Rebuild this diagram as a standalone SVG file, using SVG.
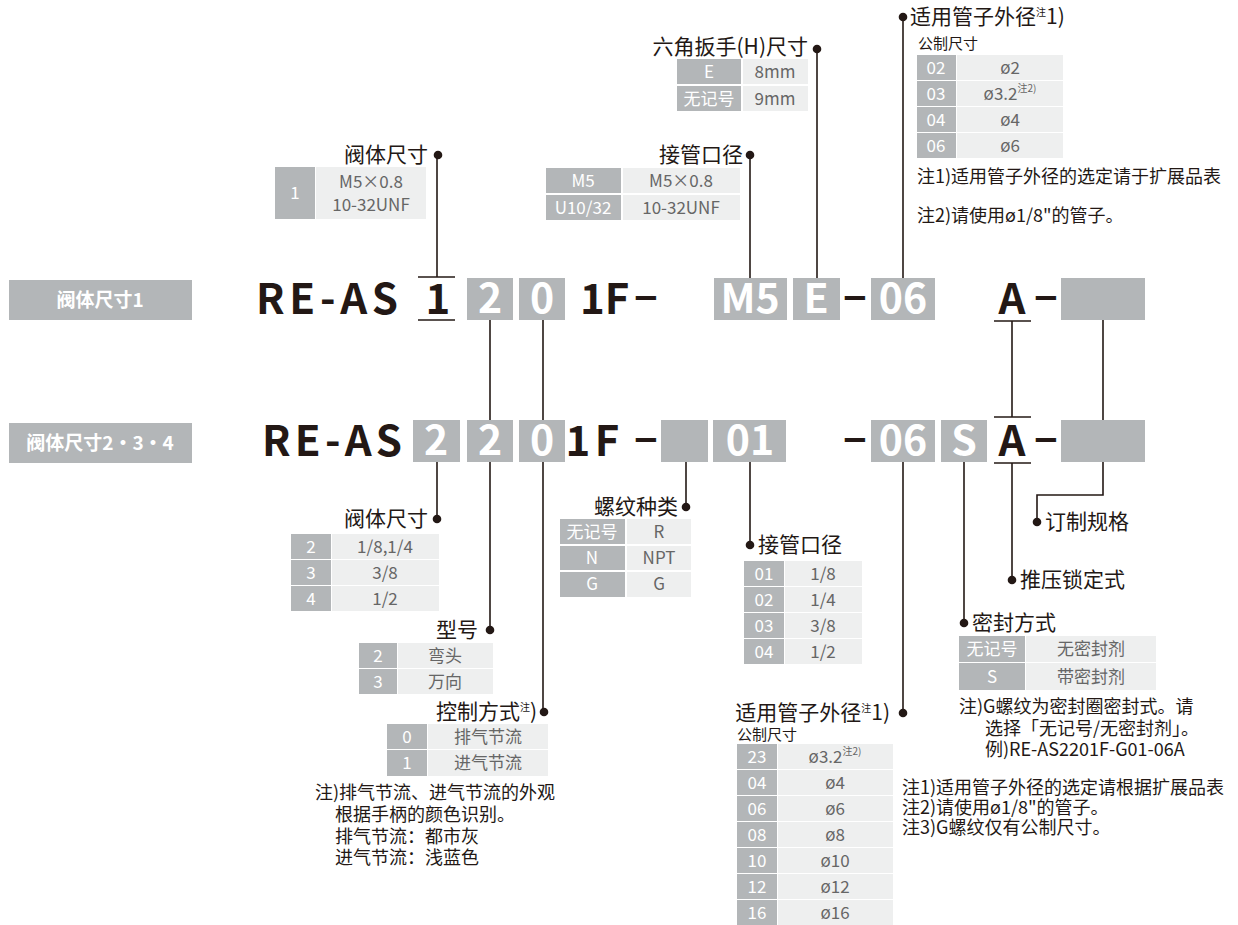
<svg xmlns="http://www.w3.org/2000/svg" width="1238" height="925" viewBox="0 0 1238 925">
<style>
text{font-family:'Noto Sans CJK SC','Noto Sans',sans-serif}
.g{fill:#b3b6b8}
.l{fill:#eeefef}
.tw{fill:#fff;font-size:17px;text-anchor:middle}
.tg{fill:#666;font-size:17px;text-anchor:middle}
.lbl{fill:#231815;font-size:21px}
.note{fill:#231815;font-size:18px}
.sub{fill:#231815;font-size:15px}
.big{fill:#231815;font-size:42px;font-weight:bold}
.bw{fill:#fff;font-size:41px;font-weight:bold;text-anchor:middle}
.dash{fill:#231815;font-size:41px;font-weight:bold;font-family:'Liberation Sans',sans-serif;text-anchor:middle}
.rl{fill:#fff;font-size:19px;font-weight:bold;text-anchor:middle}
.ln{stroke:#231815;stroke-width:1.6;fill:none}
.dot{fill:#231815}
.sup{font-size:10px}
</style>
<rect width="1238" height="925" fill="#fff"/>

<g id="connectors">
<line class="ln" x1="437" y1="155" x2="437" y2="277"/>
<line class="ln" x1="418" y1="277" x2="455" y2="277"/>
<line class="ln" x1="418" y1="320" x2="455" y2="320"/>
<line class="ln" x1="750" y1="155" x2="750" y2="278"/>
<line class="ln" x1="817" y1="49" x2="817" y2="278"/>
<line class="ln" x1="903" y1="17" x2="903" y2="278"/>
<line class="ln" x1="490" y1="320" x2="490" y2="420"/>
<line class="ln" x1="543" y1="320" x2="543" y2="420"/>
<line class="ln" x1="994" y1="321" x2="1031" y2="321"/>
<line class="ln" x1="1012" y1="321" x2="1012" y2="417"/>
<line class="ln" x1="994" y1="417" x2="1031" y2="417"/>
<line class="ln" x1="1103" y1="320" x2="1103" y2="420"/>
<line class="ln" x1="437" y1="462" x2="437" y2="519"/>
<line class="ln" x1="490" y1="462" x2="490" y2="630"/>
<line class="ln" x1="543" y1="462" x2="543" y2="712"/>
<line class="ln" x1="686" y1="462" x2="686" y2="507"/>
<line class="ln" x1="750" y1="462" x2="750" y2="545"/>
<line class="ln" x1="903" y1="462" x2="903" y2="713"/>
<line class="ln" x1="964" y1="462" x2="964" y2="623"/>
<line class="ln" x1="994" y1="463" x2="1031" y2="463"/>
<line class="ln" x1="1012" y1="463" x2="1012" y2="580"/>
<polyline class="ln" points="1103,462 1103,495 1037,495 1037,522"/>
<circle class="dot" cx="438" cy="155" r="4.3"/>
<circle class="dot" cx="750" cy="155" r="4.3"/>
<circle class="dot" cx="817" cy="49" r="4.3"/>
<circle class="dot" cx="903" cy="17" r="4.3"/>
<circle class="dot" cx="437" cy="519" r="4.3"/>
<circle class="dot" cx="490" cy="630" r="4.3"/>
<circle class="dot" cx="544" cy="712" r="4.3"/>
<circle class="dot" cx="686" cy="507" r="4.3"/>
<circle class="dot" cx="750" cy="545" r="4.3"/>
<circle class="dot" cx="903" cy="713" r="4.3"/>
<circle class="dot" cx="964" cy="623" r="4.3"/>
<circle class="dot" cx="1012" cy="580" r="4.3"/>
<circle class="dot" cx="1037" cy="522" r="4.3"/>
</g>

<g id="row-label-1">
<rect class="g" x="9" y="280" width="183" height="40"/>
<text class="rl" x="100" y="307">阀体尺寸1</text>
</g>
<g id="row-label-2">
<rect class="g" x="9" y="423" width="183" height="40"/>
<text class="rl" x="100" y="450">阀体尺寸2·3·4</text>
</g>

<g id="row1">
<text class="big" x="256" y="314" textLength="142" lengthAdjust="spacing">RE-AS</text>
<text class="big" x="438" y="314" text-anchor="middle">1</text>
<rect class="g" x="467" y="278" width="46" height="42"/><text class="bw" x="490" y="313">2</text>
<rect class="g" x="519" y="278" width="46" height="42"/><text class="bw" x="542" y="313">0</text>
<text class="big" x="580" y="314">1F</text>
<text class="dash" x="646" y="309">–</text>
<rect class="g" x="714" y="278" width="73" height="42"/><text class="bw" x="750" y="313">M5</text>
<rect class="g" x="793" y="278" width="47" height="42"/><text class="bw" x="816" y="313">E</text>
<text class="dash" x="855" y="309">–</text>
<rect class="g" x="871" y="278" width="64" height="42"/><text class="bw" x="903" y="313">06</text>
<text class="big" x="1012" y="314" text-anchor="middle">A</text>
<text class="dash" x="1046" y="309">–</text>
<rect class="g" x="1061" y="278" width="84" height="42"/>
</g>

<g id="row2">
<text class="big" x="262" y="456" textLength="140" lengthAdjust="spacing">RE-AS</text>
<rect class="g" x="413" y="420" width="47" height="42"/><text class="bw" x="436" y="455">2</text>
<rect class="g" x="467" y="420" width="46" height="42"/><text class="bw" x="490" y="455">2</text>
<rect class="g" x="519" y="420" width="46" height="42"/><text class="bw" x="542" y="455">0</text>
<text class="big" x="578" y="456" text-anchor="middle">1</text>
<text class="big" x="607" y="456" text-anchor="middle">F</text>
<text class="dash" x="646" y="451">–</text>
<rect class="g" x="661" y="420" width="47" height="42"/>
<rect class="g" x="713" y="420" width="73" height="42"/><text class="bw" x="750" y="455">01</text>
<text class="dash" x="855" y="451">–</text>
<rect class="g" x="871" y="420" width="64" height="42"/><text class="bw" x="903" y="455">06</text>
<rect class="g" x="941" y="420" width="46" height="42"/><text class="bw" x="964" y="455">S</text>
<text class="big" x="1012" y="456" text-anchor="middle">A</text>
<text class="dash" x="1046" y="451">–</text>
<rect class="g" x="1061" y="420" width="84" height="42"/>
</g>

<g id="n-body-size-1">
<text class="lbl" x="428" y="162" text-anchor="end">阀体尺寸</text>
<rect class="g" x="275" y="167" width="40" height="52"/>
<rect class="l" x="316" y="167" width="110" height="52"/>
<text class="tw" x="295" y="199">1</text>
<text class="tg" x="371" y="188">M5×0.8</text>
<text class="tg" x="371" y="211">10-32UNF</text>
</g>

<g id="n-port-1">
<text class="lbl" x="743" y="162" text-anchor="end">接管口径</text>
<rect class="g" x="546" y="168" width="75" height="25"/><rect class="l" x="623" y="168" width="117" height="25"/>
<rect class="g" x="546" y="195" width="75" height="25"/><rect class="l" x="623" y="195" width="117" height="25"/>
<text class="tw" x="583" y="187">M5</text><text class="tg" x="681" y="187">M5×0.8</text>
<text class="tw" x="583" y="214">U10/32</text><text class="tg" x="681" y="214">10-32UNF</text>
</g>

<g id="n-hex">
<text class="lbl" x="808" y="54" text-anchor="end">六角扳手(H)尺寸</text>
<rect class="g" x="677" y="59" width="64" height="25"/><rect class="l" x="743" y="59" width="65" height="25"/>
<rect class="g" x="677" y="86" width="64" height="25"/><rect class="l" x="743" y="86" width="65" height="25"/>
<text class="tw" x="709" y="78">E</text><text class="tg" x="775" y="78">8mm</text>
<text class="tw" x="709" y="105">无记号</text><text class="tg" x="775" y="105">9mm</text>
</g>

<g id="n-tube-1">
<text class="lbl" x="910" y="24">适用管子外径<tspan class="sup" dy="-8">注</tspan><tspan dy="8">1)</tspan></text>
<text class="sub" x="918" y="49">公制尺寸</text>
<rect class="g" x="917" y="55" width="39" height="25"/><rect class="l" x="957" y="55" width="106" height="25"/>
<rect class="g" x="917" y="81" width="39" height="25"/><rect class="l" x="957" y="81" width="106" height="25"/>
<rect class="g" x="917" y="107" width="39" height="25"/><rect class="l" x="957" y="107" width="106" height="25"/>
<rect class="g" x="917" y="133" width="39" height="25"/><rect class="l" x="957" y="133" width="106" height="25"/>
<text class="tw" x="936" y="74">02</text><text class="tg" x="1010" y="74">ø2</text>
<text class="tw" x="936" y="100">03</text><text class="tg" x="1010" y="100">ø3.2<tspan class="sup" font-size="8" dy="-8">注2)</tspan></text>
<text class="tw" x="936" y="126">04</text><text class="tg" x="1010" y="126">ø4</text>
<text class="tw" x="936" y="152">06</text><text class="tg" x="1010" y="152">ø6</text>
<text class="note" x="917" y="183">注1)适用管子外径的选定请于扩展品表</text>
<text class="note" x="917" y="222">注2)请使用ø1/8"的管子。</text>
</g>

<g id="n-body-size-2">
<text class="lbl" x="428" y="526" text-anchor="end">阀体尺寸</text>
<rect class="g" x="291" y="534" width="40" height="25"/><rect class="l" x="332" y="534" width="107" height="25"/>
<rect class="g" x="291" y="560" width="40" height="25"/><rect class="l" x="332" y="560" width="107" height="25"/>
<rect class="g" x="291" y="586" width="40" height="25"/><rect class="l" x="332" y="586" width="107" height="25"/>
<text class="tw" x="311" y="553">2</text><text class="tg" x="385" y="553">1/8,1/4</text>
<text class="tw" x="311" y="579">3</text><text class="tg" x="385" y="579">3/8</text>
<text class="tw" x="311" y="605">4</text><text class="tg" x="385" y="605">1/2</text>
</g>

<g id="n-model">
<text class="lbl" x="478" y="637" text-anchor="end">型号</text>
<rect class="g" x="359" y="643" width="38" height="25"/><rect class="l" x="398" y="643" width="95" height="25"/>
<rect class="g" x="359" y="669" width="38" height="25"/><rect class="l" x="398" y="669" width="95" height="25"/>
<text class="tw" x="378" y="662">2</text><text class="tg" x="445" y="662">弯头</text>
<text class="tw" x="378" y="688">3</text><text class="tg" x="445" y="688">万向</text>
</g>

<g id="n-control">
<text class="lbl" x="537" y="719" text-anchor="end">控制方式<tspan class="sup" dy="-8">注</tspan><tspan dy="8">)</tspan></text>
<rect class="g" x="387" y="724" width="40" height="25"/><rect class="l" x="428" y="724" width="120" height="25"/>
<rect class="g" x="387" y="750" width="40" height="26"/><rect class="l" x="428" y="750" width="120" height="26"/>
<text class="tw" x="407" y="743">0</text><text class="tg" x="488" y="743">排气节流</text>
<text class="tw" x="407" y="769">1</text><text class="tg" x="488" y="769">进气节流</text>
<text class="note" x="315" y="799">注)排气节流、进气节流的外观</text>
<text class="note" x="335" y="821">根据手柄的颜色识别。</text>
<text class="note" x="335" y="843">排气节流：都市灰</text>
<text class="note" x="335" y="864">进气节流：浅蓝色</text>
</g>

<g id="n-thread">
<text class="lbl" x="678" y="514" text-anchor="end">螺纹种类</text>
<rect class="g" x="560" y="519" width="65" height="25"/><rect class="l" x="627" y="519" width="64" height="25"/>
<rect class="g" x="560" y="546" width="65" height="24"/><rect class="l" x="627" y="546" width="64" height="24"/>
<rect class="g" x="560" y="572" width="65" height="25"/><rect class="l" x="627" y="572" width="64" height="25"/>
<text class="tw" x="592" y="538">无记号</text><text class="tg" x="659" y="538">R</text>
<text class="tw" x="592" y="564">N</text><text class="tg" x="659" y="564">NPT</text>
<text class="tw" x="592" y="590">G</text><text class="tg" x="659" y="590">G</text>
</g>

<g id="n-port-2">
<text class="lbl" x="758" y="552">接管口径</text>
<rect class="g" x="744" y="561" width="40" height="25"/><rect class="l" x="785" y="561" width="77" height="25"/>
<rect class="g" x="744" y="587" width="40" height="25"/><rect class="l" x="785" y="587" width="77" height="25"/>
<rect class="g" x="744" y="613" width="40" height="25"/><rect class="l" x="785" y="613" width="77" height="25"/>
<rect class="g" x="744" y="639" width="40" height="25"/><rect class="l" x="785" y="639" width="77" height="25"/>
<text class="tw" x="764" y="580">01</text><text class="tg" x="823" y="580">1/8</text>
<text class="tw" x="764" y="606">02</text><text class="tg" x="823" y="606">1/4</text>
<text class="tw" x="764" y="632">03</text><text class="tg" x="823" y="632">3/8</text>
<text class="tw" x="764" y="658">04</text><text class="tg" x="823" y="658">1/2</text>
</g>

<g id="n-tube-2">
<text class="lbl" x="890" y="720" text-anchor="end">适用管子外径<tspan class="sup" dy="-8">注</tspan><tspan dy="8">1)</tspan></text>
<text class="sub" x="737" y="740" font-size="16">公制尺寸</text>
<rect class="g" x="737" y="744" width="40" height="25"/><rect class="l" x="778" y="744" width="115" height="25"/>
<rect class="g" x="737" y="770" width="40" height="25"/><rect class="l" x="778" y="770" width="115" height="25"/>
<rect class="g" x="737" y="796" width="40" height="25"/><rect class="l" x="778" y="796" width="115" height="25"/>
<rect class="g" x="737" y="822" width="40" height="25"/><rect class="l" x="778" y="822" width="115" height="25"/>
<rect class="g" x="737" y="848" width="40" height="25"/><rect class="l" x="778" y="848" width="115" height="25"/>
<rect class="g" x="737" y="874" width="40" height="25"/><rect class="l" x="778" y="874" width="115" height="25"/>
<rect class="g" x="737" y="900" width="40" height="25"/><rect class="l" x="778" y="900" width="115" height="25"/>
<text class="tw" x="757" y="763">23</text><text class="tg" x="835" y="763">ø3.2<tspan class="sup" font-size="8" dy="-8">注2)</tspan></text>
<text class="tw" x="757" y="789">04</text><text class="tg" x="835" y="789">ø4</text>
<text class="tw" x="757" y="815">06</text><text class="tg" x="835" y="815">ø6</text>
<text class="tw" x="757" y="841">08</text><text class="tg" x="835" y="841">ø8</text>
<text class="tw" x="757" y="867">10</text><text class="tg" x="835" y="867">ø10</text>
<text class="tw" x="757" y="893">12</text><text class="tg" x="835" y="893">ø12</text>
<text class="tw" x="757" y="919">16</text><text class="tg" x="835" y="919">ø16</text>
<text class="note" x="902" y="794">注1)适用管子外径的选定请根据扩展品表</text>
<text class="note" x="902" y="814">注2)请使用ø1/8"的管子。</text>
<text class="note" x="902" y="834">注3)G螺纹仅有公制尺寸。</text>
</g>

<g id="n-seal">
<text class="lbl" x="972" y="630">密封方式</text>
<rect class="g" x="959" y="636" width="66" height="26"/><rect class="l" x="1026" y="636" width="130" height="26"/>
<rect class="g" x="959" y="663" width="66" height="27"/><rect class="l" x="1026" y="663" width="130" height="27"/>
<text class="tw" x="992" y="655">无记号</text><text class="tg" x="1091" y="655">无密封剂</text>
<text class="tw" x="992" y="683">S</text><text class="tg" x="1091" y="683">带密封剂</text>
<text class="note" x="959" y="713">注)G螺纹为密封圈密封式。请</text>
<text class="note" x="985" y="735">选择「无记号/无密封剂」。</text>
<text class="note" x="985" y="756">例)RE-AS2201F-G01-06A</text>
</g>

<g id="n-push-lock">
<text class="lbl" x="1020" y="587">推压锁定式</text>
</g>

<g id="n-custom">
<text class="lbl" x="1045" y="529">订制规格</text>
</g>
</svg>
